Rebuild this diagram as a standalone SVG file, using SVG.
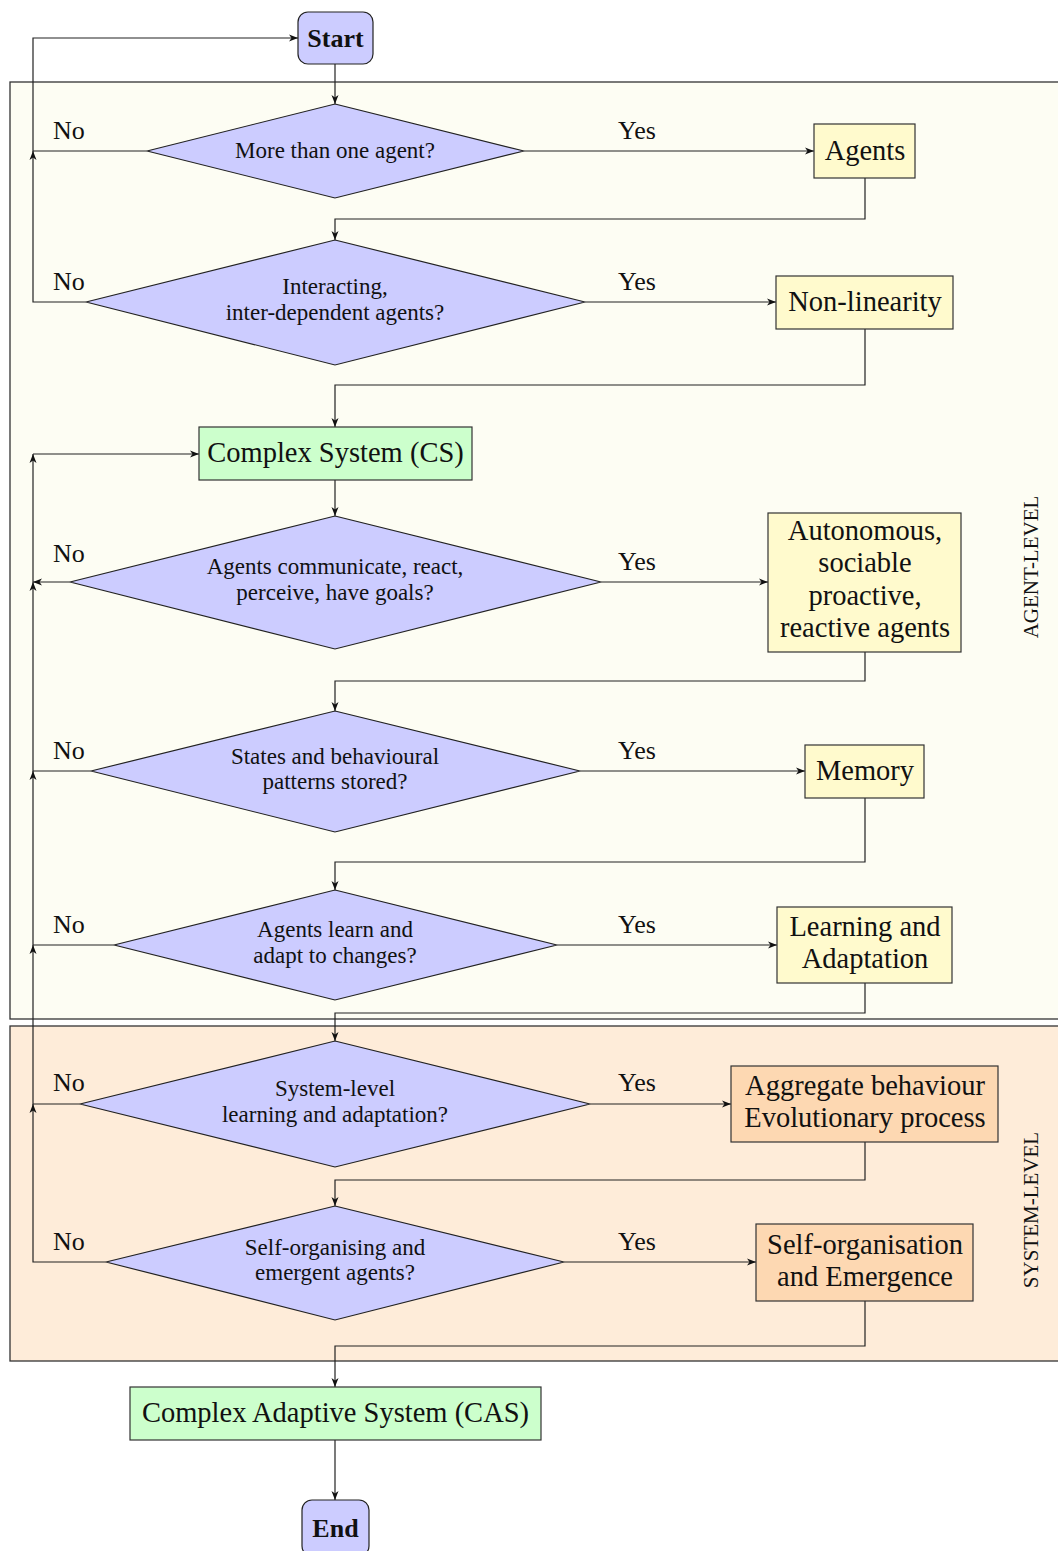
<svg xmlns="http://www.w3.org/2000/svg" width="1058" height="1551" viewBox="0 0 1058 1551">
<defs>
<marker id="ah" markerUnits="userSpaceOnUse" markerWidth="10" markerHeight="8" viewBox="0 0 10 8" refX="9" refY="4" orient="auto">
<path d="M0,0.5 L9,4 L0,7.5 L2.5,4 z" fill="#111"/>
</marker>
<style>
text{font-family:"Liberation Serif","Times New Roman",serif;fill:#111}
.frame{stroke:#333;stroke-width:1.3}
.dia{fill:#ccccff;stroke:#222;stroke-width:1.2}
.yel{fill:#fffacd;stroke:#333;stroke-width:1.2}
.grn{fill:#ccffcc;stroke:#333;stroke-width:1.2}
.org{fill:#fdd8b2;stroke:#333;stroke-width:1.2}
.term{fill:#ccccff;stroke:#222;stroke-width:1.2}
.dt{font-size:23px;text-anchor:middle}
.bt{font-size:28.5px;text-anchor:middle}
.lbl{font-size:26px}
.side{font-size:21px;text-anchor:middle}
.c{fill:none;stroke:#222;stroke-width:1.2}
.a{marker-end:url(#ah)}
</style>
</defs>

<g id="agent-level-frame">
<rect class="frame" x="10" y="82" width="1060" height="937" fill="#fdfdf3"/>
<text class="side" transform="translate(1038,567) rotate(-90)">AGENT-LEVEL</text>
</g>
<g id="system-level-frame">
<rect class="frame" x="10" y="1026" width="1060" height="335" fill="#feecd9"/>
<text class="side" transform="translate(1038,1210) rotate(-90)">SYSTEM-LEVEL</text>
</g>

<g id="connectors">
<!-- main flow -->
<path class="c a" d="M335,64 V104"/>
<path class="c a" d="M524,151 H814"/>
<path class="c a" d="M865,178 V219 H335 V240"/>
<path class="c a" d="M585,302 H776"/>
<path class="c a" d="M865,329 V385 H335 V427"/>
<path class="c a" d="M335,480 V516"/>
<path class="c a" d="M601,582 H768"/>
<path class="c a" d="M865,652 V681 H335 V711"/>
<path class="c a" d="M580,771 H805"/>
<path class="c a" d="M865,798 V862 H335 V890"/>
<path class="c a" d="M557,945 H777"/>
<path class="c a" d="M865,983 V1013 H335 V1041"/>
<path class="c a" d="M590,1104 H731"/>
<path class="c a" d="M865,1142 V1180 H335 V1206"/>
<path class="c a" d="M564,1262 H756"/>
<path class="c a" d="M865,1301 V1346 H335 V1387"/>
<path class="c a" d="M335,1440 V1500"/>
<!-- No branches -->
<path class="c a" d="M147,151 H33 V38 H298"/>
<path class="c a" d="M86,302 H33 V151"/>
<path class="c a" d="M70,582 H33"/>
<path class="c a" d="M33,582 V454"/>
<path class="c a" d="M33,454 H199"/>
<path class="c a" d="M91,771 H33 V582"/>
<path class="c a" d="M114,945 H33 V771"/>
<path class="c a" d="M80,1104 H33 V945"/>
<path class="c a" d="M106,1262 H33 V1104"/>
<!-- labels -->
<text class="lbl" x="53" y="139">No</text>
<text class="lbl" x="618" y="139">Yes</text>
<text class="lbl" x="53" y="290">No</text>
<text class="lbl" x="618" y="290">Yes</text>
<text class="lbl" x="53" y="562">No</text>
<text class="lbl" x="618" y="570">Yes</text>
<text class="lbl" x="53" y="759">No</text>
<text class="lbl" x="618" y="759">Yes</text>
<text class="lbl" x="53" y="933">No</text>
<text class="lbl" x="618" y="933">Yes</text>
<text class="lbl" x="53" y="1091">No</text>
<text class="lbl" x="618" y="1091">Yes</text>
<text class="lbl" x="53" y="1250">No</text>
<text class="lbl" x="618" y="1250">Yes</text>
</g>

<g id="start">
<rect class="term" x="298" y="12" width="75" height="52" rx="10"/>
<text x="335.5" y="47" font-size="26" font-weight="bold" text-anchor="middle">Start</text>
</g>

<g id="d1">
<polygon class="dia" points="335,104 524,151 335,198 147,151"/>
<text class="dt" x="335" y="158">More than one agent?</text>
</g>
<g id="agents">
<rect class="yel" x="814" y="124" width="101" height="54"/>
<text class="bt" x="865" y="160">Agents</text>
</g>

<g id="d2">
<polygon class="dia" points="335,240 585,302 335,365 86,302"/>
<text class="dt" x="335" y="294">Interacting,</text>
<text class="dt" x="335" y="320">inter-dependent agents?</text>
</g>
<g id="nonlinearity">
<rect class="yel" x="776" y="276" width="177" height="53"/>
<text class="bt" x="865" y="311">Non-linearity</text>
</g>

<g id="cs">
<rect class="grn" x="199" y="427" width="273" height="53"/>
<text class="bt" x="335.5" y="462">Complex System (CS)</text>
</g>

<g id="d3">
<polygon class="dia" points="335,516 601,582 335,649 70,582"/>
<text class="dt" x="335" y="574">Agents communicate, react,</text>
<text class="dt" x="335" y="600">perceive, have goals?</text>
</g>
<g id="autonomous">
<rect class="yel" x="768" y="513" width="193" height="139"/>
<text class="bt" x="865" y="540">Autonomous,</text>
<text class="bt" x="865" y="572">sociable</text>
<text class="bt" x="865" y="605">proactive,</text>
<text class="bt" x="865" y="637">reactive agents</text>
</g>

<g id="d4">
<polygon class="dia" points="335,711 580,771 335,832 91,771"/>
<text class="dt" x="335" y="764">States and behavioural</text>
<text class="dt" x="335" y="789">patterns stored?</text>
</g>
<g id="memory">
<rect class="yel" x="805" y="745" width="119" height="53"/>
<text class="bt" x="865" y="780">Memory</text>
</g>

<g id="d5">
<polygon class="dia" points="335,890 557,945 335,1000 114,945"/>
<text class="dt" x="335" y="937">Agents learn and</text>
<text class="dt" x="335" y="963">adapt to changes?</text>
</g>
<g id="learning">
<rect class="yel" x="777" y="907" width="175" height="76"/>
<text class="bt" x="865" y="936">Learning and</text>
<text class="bt" x="865" y="968">Adaptation</text>
</g>

<g id="d6">
<polygon class="dia" points="335,1041 590,1104 335,1167 80,1104"/>
<text class="dt" x="335" y="1096">System-level</text>
<text class="dt" x="335" y="1122">learning and adaptation?</text>
</g>
<g id="aggregate">
<rect class="org" x="731" y="1066" width="267" height="76"/>
<text class="bt" x="865" y="1095">Aggregate behaviour</text>
<text class="bt" x="865" y="1127">Evolutionary process</text>
</g>

<g id="d7">
<polygon class="dia" points="335,1206 564,1262 335,1320 106,1262"/>
<text class="dt" x="335" y="1255">Self-organising and</text>
<text class="dt" x="335" y="1280">emergent agents?</text>
</g>
<g id="selforg">
<rect class="org" x="756" y="1224" width="217" height="77"/>
<text class="bt" x="865" y="1254">Self-organisation</text>
<text class="bt" x="865" y="1286">and Emergence</text>
</g>

<g id="cas">
<rect class="grn" x="130" y="1387" width="411" height="53"/>
<text class="bt" x="335.5" y="1422">Complex Adaptive System (CAS)</text>
</g>

<g id="end">
<rect class="term" x="302" y="1500" width="67" height="56" rx="10"/>
<text x="335.5" y="1537" font-size="26" font-weight="bold" text-anchor="middle">End</text>
</g>
</svg>
